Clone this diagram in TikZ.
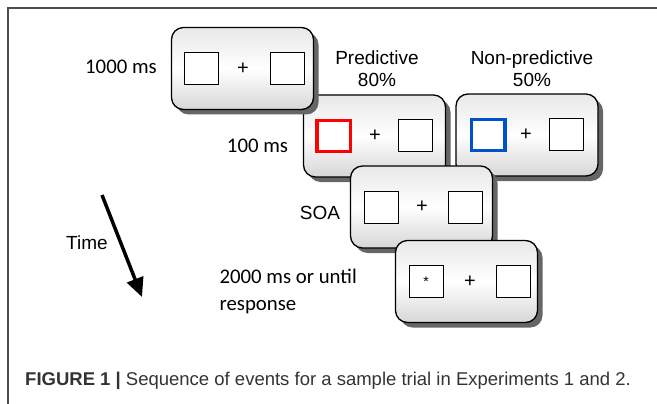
\documentclass[tikz,border=0pt]{standalone}
\usepackage{fontspec}
\setmainfont{Liberation Sans}
\newfontfamily\calfont{Carlito}
\usetikzlibrary{shapes,arrows.meta,shadows}

\begin{document}
\begin{tikzpicture}[x=1pt,y=-1pt,>={Triangle[length=19pt,width=17pt]},
  screen/.style={draw,rectangle,rounded corners=12pt,line width=1.3pt,minimum width=142pt,minimum height=82pt,top color=gray!18,bottom color=gray!32,middle color=white,drop shadow={shadow xshift=5pt,shadow yshift=-5pt,fill=black!60,opacity=1}},
  box/.style={draw,rectangle,line width=1pt,minimum width=34pt,minimum height=32pt,fill=white,inner sep=0pt},
  cue/.style={box,line width=3.5pt,minimum width=33.5pt,minimum height=31pt},
  cross/.style={font=\fontsize{20}{20}\selectfont,inner sep=0pt},
  lab/.style={font=\fontsize{19}{22}\selectfont,align=center},
  dur/.style={font=\calfont\fontsize{20.8}{27}\selectfont,align=left}]
\useasboundingbox (0,0) rectangle (657,404);
\draw[line width=1.2pt,black!70] (8,404) -- (8,8) -- (657,8);

\node[screen](scr2) at (374.5,136) {};
\node[cue,draw=red,xshift=-41pt](scr2l) at (scr2) {};
\node[cross,xshift=0.5pt](scr2p) at (scr2) {+};
\node[box,xshift=41pt](scr2r) at (scr2) {};

\node[screen](scr3) at (527,135) {};
\node[cue,draw=blue!60!cyan!80!black,xshift=-39pt](scr3l) at (scr3) {};
\node[cross,xshift=-1pt](scr3p) at (scr3) {+};
\node[box,xshift=39.5pt](scr3r) at (scr3) {};

\node[screen](scr1) at (242.5,68.5) {};
\node[box,xshift=-41pt](scr1l) at (scr1) {};
\node[cross,xshift=0.5pt](scr1p) at (scr1) {+};
\node[box,xshift=44.5pt](scr1r) at (scr1) {};

\node[screen](scr4) at (421.5,207) {};
\node[box,xshift=-40.5pt](scr4l) at (scr4) {};
\node[cross,xshift=0.5pt](scr4p) at (scr4) {+};
\node[box,xshift=44pt](scr4r) at (scr4) {};

\node[screen](scr5) at (466.5,281.5) {};
\node[box,xshift=-40.5pt,font=\fontsize{14}{14}\selectfont](scr5l) at (scr5) {*};
\node[cross,xshift=3.5pt](scr5p) at (scr5) {+};
\node[box,xshift=46.5pt](scr5r) at (scr5) {};

\node[dur](t1000) at (121,67) {1000 ms};
\node[dur](t100) at (257.5,146) {100 ms};
\node[lab](pred) at (377,69) {Predictive\\80\%};
\node[lab](npred) at (532,69) {Non-predictive\\50\%};
\node[lab](soa) at (320,213) {SOA};
\node[dur,anchor=west](t2000) at (216,291.5) {2000 ms or until\\response};
\node[lab](time) at (87,243) {Time};

\coordinate (tstart) at (102,195);
\coordinate (tend) at (142,297);
\draw[->,line width=3.5pt](tstart) -- (tend);

\node[anchor=base west,inner sep=0pt,text=black!80,font=\fontsize{18.5}{22}\selectfont](cap) at (25,385) {\textbf{FIGURE 1 |} Sequence of events for a sample trial in Experiments 1 and 2.};
\end{tikzpicture}
\end{document}
